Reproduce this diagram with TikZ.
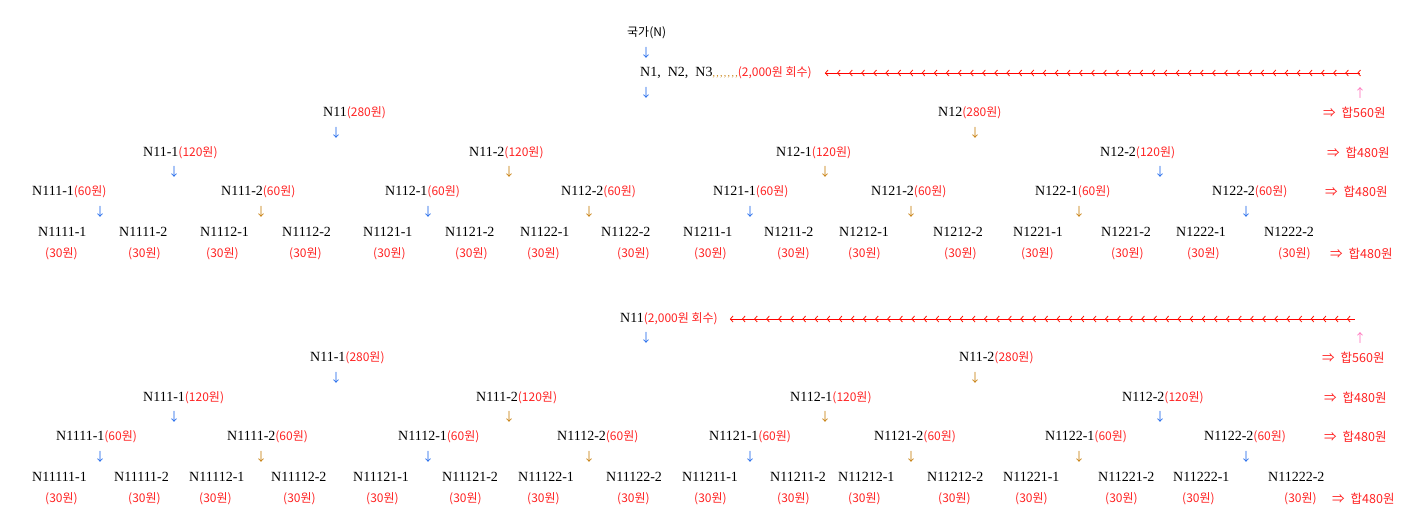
\documentclass[tikz,border=0pt]{standalone}
\usepackage{fontspec}
\setmainfont{Liberation Serif}
\newfontfamily\kr{Noto Sans CJK KR}
\usetikzlibrary{arrows.meta,decorations.markings}
\definecolor{amtred}{RGB}{255,35,35}
\definecolor{arrblue}{RGB}{40,110,235}
\definecolor{arrorange}{RGB}{200,130,20}
\definecolor{uppink}{RGB}{255,120,190}
\newcommand{\amt}[1]{{\kr\fontsize{12}{12}\selectfont\color{amtred}#1}}
\newcommand{\dotrun}{{\color{arrorange}\fontsize{10}{10}\selectfont ,\kern1.3pt,\kern1.3pt,\kern1.3pt,\kern1.3pt,\kern1.3pt,\kern1.3pt,}}
\tikzset{
 lab/.style={anchor=west, inner sep=0pt, font=\fontsize{14}{14}\selectfont},
 amtlab/.style={anchor=west, inner sep=0pt, font=\kr\fontsize{12}{12}\selectfont, text=amtred},
 dn/.style={inner sep=0pt, font=\kr\fontsize{12}{12}\selectfont},
 sumlab/.style={anchor=west, inner sep=0pt, font=\kr\fontsize{12.5}{12.5}\selectfont, text=amtred},
 recov/.style={draw=red, line width=0.8pt, postaction={decorate, decoration={markings,
   mark=between positions 0 and 1 step 12.1pt with {\arrowreversed[red!85!orange]{Straight Barb[length=2.6pt,width=6pt]}}}}},
}
\newcommand{\sumtxt}[1]{⇒\hspace{6pt}합#1원}
\begin{document}
\begin{tikzpicture}[x=1pt,y=-1pt]
\useasboundingbox (0,0) rectangle (1406,530);
% ---------------- first tree ----------------
\node[lab,font=\kr\fontsize{12}{12}\selectfont] (country) at (627,33) {국가(N)};
\node[dn,text=arrblue] (d0) at (646,53) {↓};
\node[lab] (top) at (640,73) {N1,\ \ N2,\ \ N3\dotrun\amt{(2,000원\ 회수)}};
\node[dn,text=arrblue] (d1) at (646,93) {↓};
\coordinate (r1) at (1360,73);
\draw[recov] ([xshift=13pt]top.east) -- (r1);
\node[dn,text=uppink] (u1) at (1360,93) {↑};
\node[sumlab] (s1) at (1323,113) {\sumtxt{560}};
% level 1
\node[lab] (a1) at (323,113) {N11\amt{(280원)}};
\node[dn,text=arrblue] (da1) at (336,133) {↓};
\node[lab] (a2) at (938,113) {N12\amt{(280원)}};
\node[dn,text=arrorange] (da2) at (975,133) {↓};
% level 2
\foreach \x/\t/\ax/\c [count=\i] in {143/N11-1/174/arrblue, 469/N11-2/509/arrorange, 776/N12-1/825/arrorange, 1100/N12-2/1160/arrblue}{
  \node[lab] (b\i) at (\x,153) {\t\amt{(120원)}};
  \node[dn,text=\c] (db\i) at (\ax,172) {↓};
}
\node[sumlab] (s2) at (1327,153) {\sumtxt{480}};
% level 3
\foreach \x/\t/\ax/\c [count=\i] in {32/N111-1/100/arrblue, 221/N111-2/261/arrorange, 385/N112-1/428/arrblue, 561/N112-2/589/arrorange, 713/N121-1/750/arrblue, 871/N121-2/911/arrorange, 1035/N122-1/1079/arrorange, 1212/N122-2/1246/arrblue}{
  \node[lab] (c\i) at (\x,192) {\t\amt{(60원)}};
  \node[dn,text=\c] (dc\i) at (\ax,212) {↓};
}
\node[sumlab] (s3) at (1325,192) {\sumtxt{480}};
% level 4
\foreach \x/\t/\ax [count=\i] in {38/N1111-1/45, 119/N1111-2/128, 200/N1112-1/206, 282/N1112-2/289, 363/N1121-1/373, 445/N1121-2/455, 520/N1122-1/527, 601/N1122-2/617, 683/N1211-1/694, 764/N1211-2/777, 839/N1212-1/848, 933/N1212-2/944, 1013/N1221-1/1021, 1101/N1221-2/1111, 1176/N1222-1/1187, 1264/N1222-2/1278}{
  \node[lab] (e\i) at (\x,232) {\t};
  \node[amtlab] (f\i) at (\ax,254) {(30원)};
}
\node[sumlab] (s4) at (1330,254) {\sumtxt{480}};
% ---------------- second tree ----------------
\node[lab] (top2) at (620,319) {N11\amt{(2,000원\ 회수)}};
\node[dn,text=arrblue] (g0) at (646,338) {↓};
\coordinate (r2) at (1355,319);
\draw[recov] ([xshift=12pt]top2.east) -- (r2);
\node[dn,text=uppink] (u2) at (1360,338) {↑};
\node[sumlab] (t1) at (1322,358) {\sumtxt{560}};
% level 1
\node[lab] (h1) at (310,358) {N11-1\amt{(280원)}};
\node[dn,text=arrblue] (dh1) at (336,378) {↓};
\node[lab] (h2) at (959,358) {N11-2\amt{(280원)}};
\node[dn,text=arrorange] (dh2) at (975,378) {↓};
% level 2
\foreach \x/\t/\ax/\c [count=\i] in {143/N111-1/174/arrblue, 476/N111-2/509/arrorange, 790/N112-1/825/arrorange, 1122/N112-2/1160/arrblue}{
  \node[lab] (k\i) at (\x,398) {\t\amt{(120원)}};
  \node[dn,text=\c] (dk\i) at (\ax,417) {↓};
}
\node[sumlab] (t2) at (1324,398) {\sumtxt{480}};
% level 3
\foreach \x/\t/\ax/\c [count=\i] in {56/N1111-1/100/arrblue, 227/N1111-2/261/arrorange, 398/N1112-1/428/arrblue, 557/N1112-2/589/arrorange, 709/N1121-1/750/arrblue, 874/N1121-2/911/arrorange, 1045/N1122-1/1079/arrorange, 1204/N1122-2/1246/arrblue}{
  \node[lab] (m\i) at (\x,437) {\t\amt{(60원)}};
  \node[dn,text=\c] (dm\i) at (\ax,457) {↓};
}
\node[sumlab] (t3) at (1324,437) {\sumtxt{480}};
% level 4
\foreach \x/\t/\ax [count=\i] in {32/N11111-1/45, 114/N11111-2/128, 189/N11112-1/199, 271/N11112-2/283, 353/N11121-1/366, 442/N11121-2/449, 518/N11122-1/527, 606/N11122-2/617, 682/N11211-1/694, 770/N11211-2/777, 838/N11212-1/848, 927/N11212-2/938, 1003/N11221-1/1015, 1098/N11221-2/1105, 1173/N11222-1/1182, 1268/N11222-2/1284}{
  \node[lab] (p\i) at (\x,477) {\t};
  \node[amtlab] (q\i) at (\ax,499) {(30원)};
}
\node[sumlab] (t4) at (1332,499) {\sumtxt{480}};
\end{tikzpicture}
\end{document}
